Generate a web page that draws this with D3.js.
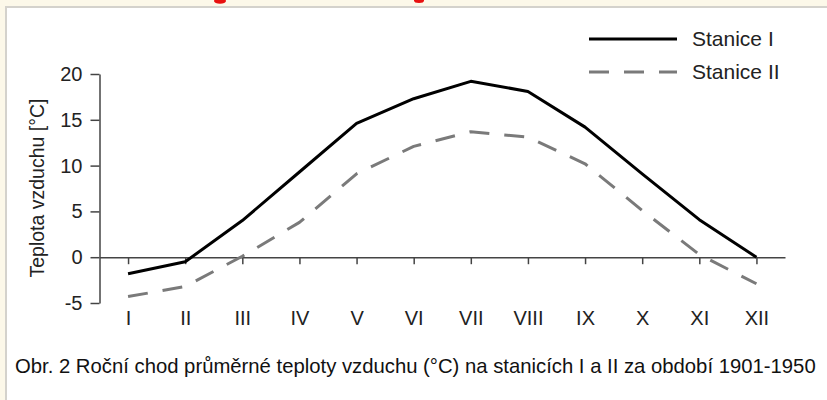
<!DOCTYPE html>
<html>
<head>
<meta charset="utf-8">
<script src="https://cdn.jsdelivr.net/npm/d3@7"></script>
<style>
  body { margin: 0; background: #fcf8e9; }
  svg { display: block; font-family: "Liberation Sans", Arial, sans-serif; }
</style>
</head>
<body>
<svg id="chart" width="827" height="400"></svg>
<script>
// monthly mean air temperature, 1901-1950
const months = ["I", "II", "III", "IV", "V", "VI", "VII", "VIII", "IX", "X", "XI", "XII"];
const stanice1 = [-1.8, -0.5, 4.0, 9.3, 14.6, 17.3, 19.2, 18.1, 14.2, 9.1, 4.1, 0.0];
const stanice2 = [-4.3, -3.2, 0.1, 3.8, 9.1, 12.1, 13.7, 13.1, 10.2, 5.1, 0.3, -2.9];
const yTicks = [-5, 0, 5, 10, 15, 20];
const seriesNames = ["Stanice I", "Stanice II"];
const caption = "Obr. 2 Roční chod průměrné teploty vzduchu (°C) na stanicích I a II za období 1901-1950";

let svg = d3.select("#chart");

let canvas = {"width": 827, "height": 400,
  "marginLeft": 99.5, "marginRight": 42,
  "marginTop": 74, "plotBottom": 303};

// white sheet with a light border on the left and top
svg.append("rect")
  .attr("x", 6).attr("y", 7)
  .attr("width", canvas.width).attr("height", canvas.height)
  .attr("fill", "#fff")
  .attr("stroke", "#d4d2cc")
  .attr("stroke-width", 2);

// scraps of red text cut off at the top edge
svg.selectAll(".scrap")
  .data([[220, 1, 6, 2.8], [419, 0.5, 5, 2.5]])
  .join("ellipse")
  .attr("class", "scrap")
  .attr("cx", d => d[0]).attr("cy", d => d[1])
  .attr("rx", d => d[2]).attr("ry", d => d[3])
  .attr("fill", "#e81010");

let xScale = d3.scalePoint()
  .domain(months)
  .range([canvas.marginLeft, canvas.width - canvas.marginRight])
  .padding(0.5);

let yScale = d3.scaleLinear()
  .domain([-5, 20])
  .range([canvas.plotBottom, canvas.marginTop]);

// y axis
let gy = svg.append("g")
  .attr("transform", `translate(${canvas.marginLeft}, 0)`)
  .call(d3.axisLeft(yScale).tickValues(yTicks).tickFormat(d => String(d))
    .tickSize(9).tickSizeOuter(0).tickPadding(8));

// x axis line at zero, ticks only
let gx = svg.append("g")
  .attr("transform", `translate(0, ${yScale(0)})`)
  .call(d3.axisBottom(xScale).tickSize(7).tickSizeOuter(0).tickFormat(""));

// month labels below the plot
let gl = svg.append("g")
  .attr("transform", `translate(0, ${canvas.plotBottom})`)
  .call(d3.axisBottom(xScale).tickSize(0).tickPadding(8));
gl.select(".domain").remove();

for (let g of [gy, gx, gl]) {
  g.selectAll("path, line").attr("stroke", "#444").attr("stroke-width", 1.5);
  g.selectAll("text").attr("font-size", "20px").attr("fill", "#222")
    .attr("font-family", "Liberation Sans, Arial, sans-serif");
}

svg.append("text")
  .attr("transform", `translate(44, 188) rotate(-90)`)
  .attr("text-anchor", "middle")
  .attr("font-size", "19.5px")
  .attr("fill", "#222")
  .text("Teplota vzduchu [°C]");

let line = d3.line()
  .x((d, i) => xScale(months[i]))
  .y(d => yScale(d));

let styles = [{"stroke": "#000", "dash": null},
              {"stroke": "#7a7a7a", "dash": "20,15"}];

svg.selectAll(".series")
  .data([stanice1, stanice2])
  .join("path")
  .attr("class", "series")
  .attr("d", line)
  .attr("fill", "none")
  .attr("stroke", (d, i) => styles[i].stroke)
  .attr("stroke-width", 3)
  .attr("stroke-dasharray", (d, i) => styles[i].dash)
  .attr("stroke-linejoin", "round");

// legend
let legend = svg.selectAll(".legend")
  .data(seriesNames)
  .join("g")
  .attr("class", "legend")
  .attr("transform", (d, i) => `translate(589, ${39 + 33 * i})`);

legend.append("line")
  .attr("x1", 0).attr("x2", 88)
  .attr("stroke", (d, i) => styles[i].stroke)
  .attr("stroke-width", 3)
  .attr("stroke-dasharray", (d, i) => styles[i].dash);

legend.append("text")
  .attr("x", 103)
  .attr("dy", "0.35em")
  .attr("font-size", "21px")
  .attr("fill", "#222")
  .text(d => d);

svg.append("text")
  .attr("x", 15)
  .attr("y", 373)
  .attr("font-size", "20.3px")
  .attr("fill", "#111")
  .text(caption);
</script>
</body>
</html>
